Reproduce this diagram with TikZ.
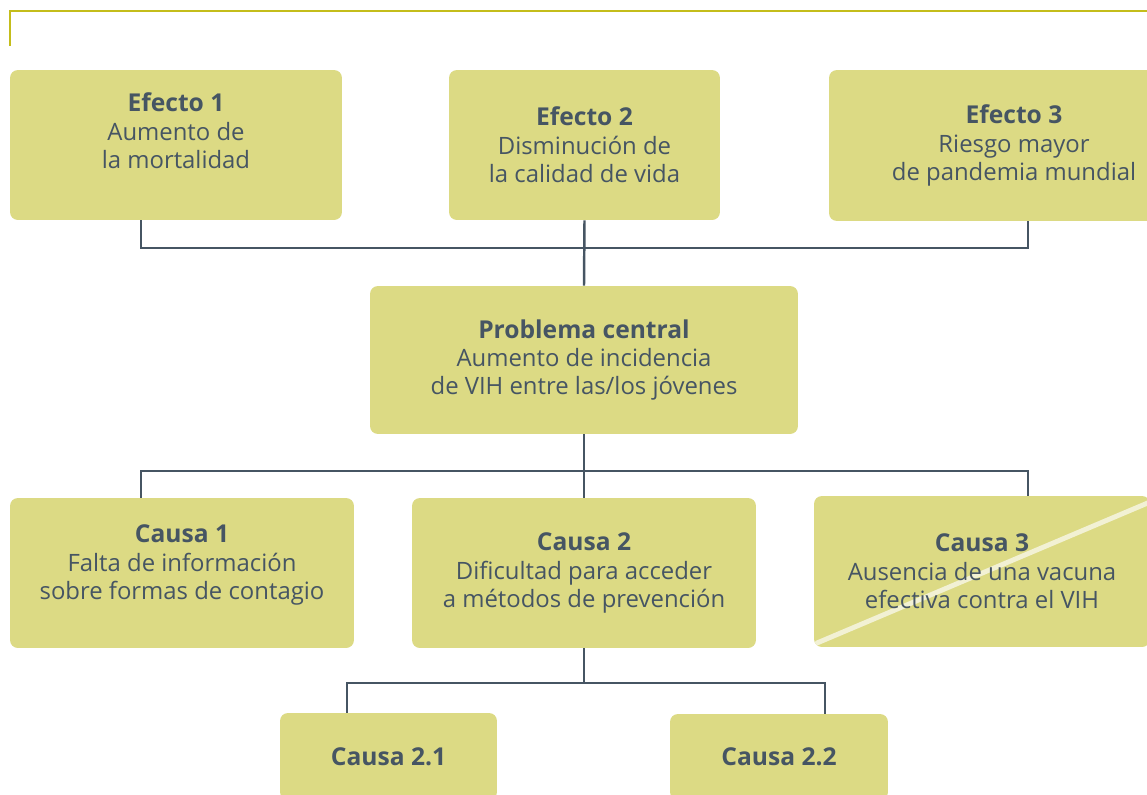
\documentclass[tikz,border=0pt]{standalone}
\usepackage{fontspec}
\setmainfont{Open Sans}
\usepackage{tikz}
\usetikzlibrary{positioning}
\definecolor{boxfill}{HTML}{DCDA84}
\definecolor{inkgray}{HTML}{465563}
\definecolor{olive}{HTML}{C4BD1B}
\definecolor{slashcol}{HTML}{F2F1D4}
\newcommand{\boxtitle}[1]{{\fontsize{14}{16.2}\selectfont\bfseries #1}}

\begin{document}
\begin{tikzpicture}[x=0.02cm, y=-0.02cm,
    card/.style={fill=boxfill, rounded corners=4.5pt, text=inkgray, align=center,
      font=\fontsize{13.6}{16.2}\selectfont, inner sep=0pt},
    link/.style={draw=inkgray, line width=1.4pt},
    slash/.style={draw=slashcol, line width=2.8pt, line cap=round}]
    \useasboundingbox (0,0) rectangle (1147,795);

    % Frame corner at the top
    \draw[olive, line width=1.7pt] (10,46) -- (10,11) -- (1150,11);

    % Effects
    \node[card, minimum width=6.64cm, minimum height=3cm, text depth=16pt] (eff1) at (176,145)
      {\boxtitle{Efecto 1}\\Aumento de\\la mortalidad};
    \node[card, minimum width=5.42cm, minimum height=3cm] (eff2) at (584.5,145)
      {\boxtitle{Efecto 2}\\Disminución de\\la calidad de vida};
    \node[card, minimum width=7.4cm, minimum height=3.02cm] (eff3) at (1014,145.5)
      {\boxtitle{Efecto 3}\\Riesgo mayor\\de pandemia mundial};

    % Central problem
    \node[card, minimum width=8.56cm, minimum height=2.96cm] (prob) at (584,360)
      {\boxtitle{Problema central}\\Aumento de incidencia\\de VIH entre las/los jóvenes};

    % Causes
    \node[card, minimum width=6.88cm, minimum height=3cm, text depth=12pt] (cau1) at (182,573)
      {\boxtitle{Causa 1}\\Falta de información\\sobre formas de contagio};
    \node[card, minimum width=6.88cm, minimum height=3cm] (cau2) at (584,573)
      {\boxtitle{Causa 2}\\Dificultad para acceder\\a métodos de prevención};
    \node[card, minimum width=6.72cm, minimum height=3.02cm,
      path picture={\draw[slash] ([xshift=0.06cm,yshift=0.08cm]path picture bounding box.south west)
        -- ([yshift=-0.12cm]path picture bounding box.north east);}] (cau3) at (982,571.5)
      {\boxtitle{Causa 3}\\Ausencia de una vacuna\\efectiva contra el VIH};

    % Sub-causes
    \node[card, minimum width=4.34cm, minimum height=1.74cm] (c21) at (388.5,756.5)
      {\boxtitle{Causa 2.1}};
    \node[card, minimum width=4.36cm, minimum height=1.72cm] (c22) at (779,757)
      {\boxtitle{Causa 2.2}};

    % Connector columns and buses
    \coordinate (colL) at (141,0);
    \coordinate (colR) at (1028,0);
    \coordinate (subL) at (347,0);
    \coordinate (subR) at (825,0);
    \coordinate (bus1) at (584,248);
    \coordinate (bus2) at (584,471);
    \coordinate (bus3) at (584,683);

    \draw[link] (eff1.south -| colL) -- (bus1 -| colL) -- (bus1 -| colR) -- (eff3.south -| colR);
    \draw[link] (eff2.south) -- (prob.north);
    \draw[link] (prob.south) -- (cau2.north);
    \draw[link] (cau1.north -| colL) -- (bus2 -| colL) -- (bus2 -| colR) -- (cau3.north -| colR);
    \draw[link] (cau2.south) -- (bus3);
    \draw[link] (c21.north -| subL) -- (bus3 -| subL) -- (bus3 -| subR) -- (c22.north -| subR);
\end{tikzpicture}
\end{document}
